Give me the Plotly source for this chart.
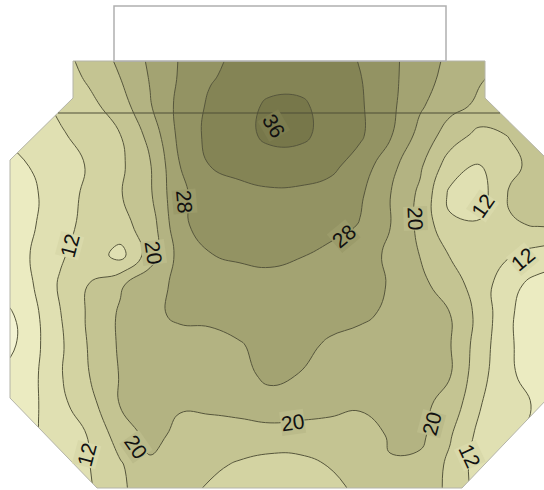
import plotly.graph_objects as go

# Sampling grid (drawing-frame units, y grows downward)
grid_x = [0, 30, 60, 90, 120, 150, 180, 210, 240, 270, 300, 330, 360, 390, 420, 450, 480, 510, 540, 570]
grid_y = [45, 75, 105, 135, 165, 195, 225, 255, 285, 315, 345, 375, 405, 435, 465, 495]

# Measured values, one list per grid row
row_045 = [9, 12, 15, 18.2, 21.5, 24.9, 28.2, 31, 32.5, 33.5, 33.7, 33, 31.6, 28.9, 26.1, 23.4, 20.8, 19, 17.5, 16]
row_075 = [8, 11, 13.9, 16.9, 20.1, 24.3, 28.4, 31.6, 33.1, 33.8, 34, 33.3, 32.1, 29, 25.7, 22.8, 20.4, 18.7, 17.1, 15.5]
row_105 = [7.5, 10.2, 12.8, 15, 18.1, 23.7, 29.2, 32.6, 34.2, 36.8, 36.8, 34.2, 32.5, 29, 24.6, 21.3, 19.3, 18.3, 17.8, 17.5]
row_135 = [8.2, 9.9, 11.5, 13.6, 15.9, 21.2, 29.2, 33.1, 34.6, 37, 37, 34.4, 32.6, 28.5, 22.7, 18.1, 14.8, 16.2, 17.5, 18]
row_165 = [6.5, 8.1, 10.2, 12.4, 15.2, 19.7, 28, 32.1, 33.5, 34, 33.8, 33, 30.4, 25.3, 20.7, 14, 11.8, 15, 17.5, 18.5]
row_195 = [5.5, 7.2, 10, 13.1, 15.7, 19.4, 27.5, 29.2, 30.5, 31.3, 31.2, 30.5, 28.6, 24.1, 19.2, 11.2, 10.3, 16.5, 18, 18.5]
row_225 = [6, 7.3, 10.8, 13.1, 14.7, 17.8, 27.3, 29.5, 29.8, 30.2, 30.2, 29.6, 27.8, 24.1, 19, 12.6, 12.4, 15.6, 16.3, 16.5]
row_255 = [5.5, 8, 11.4, 14.5, 10.5, 18, 25.5, 27.9, 28.5, 28.7, 28.2, 26.8, 25.3, 23.5, 19.9, 15.8, 14.2, 12.2, 10.3, 9.5]
row_285 = [5.5, 7.4, 12.5, 16.2, 19.5, 22.7, 24.8, 25.8, 26.6, 27, 26.8, 26.2, 25.2, 23.8, 21.1, 17.9, 14.1, 9, 6.6, 6]
row_315 = [2, 6.3, 11.8, 16.8, 20.5, 23, 24.8, 24.8, 25.2, 25.8, 25.6, 25, 24.5, 23.5, 21.8, 20.1, 14.7, 8.4, 5.5, 4.5]
row_345 = [1.5, 6.2, 11.3, 16.5, 20.5, 21.5, 22.2, 22.8, 23.8, 25, 24.8, 23.6, 23, 22.3, 21.5, 20.2, 14, 8.4, 5.5, 4.5]
row_375 = [4.5, 6.6, 11.6, 16.1, 20.2, 21.3, 21.8, 22.3, 23, 24.8, 23.9, 22.8, 22, 21.5, 21, 20.2, 13.3, 8.6, 5.8, 5]
row_405 = [5.5, 6.8, 10.9, 14.6, 20.1, 21.3, 20.3, 20.6, 21.2, 22.5, 21.8, 21, 20.4, 20.7, 21, 18.5, 12.2, 9.4, 7.4, 6.5]
row_435 = [5, 7.3, 9.7, 12.3, 18, 21, 19.2, 18.7, 18.5, 18.3, 18.3, 18.5, 18.5, 20.3, 21, 16.4, 10.8, 8.6, 7, 6]
row_465 = [5, 7, 9.5, 12, 15.5, 19.5, 18.3, 16.8, 15.5, 14.6, 14.8, 16.2, 18, 19.8, 19, 15.2, 10, 8, 6.5, 6]
row_495 = [5, 7, 9.5, 11.6, 15, 18.8, 17, 15.2, 13.8, 13.2, 13.4, 14.5, 16.6, 18.5, 17.5, 15.5, 10.5, 8, 6.5, 6]

values = [row_045, row_075, row_105, row_135, row_165, row_195, row_225, row_255,
          row_285, row_315, row_345, row_375, row_405, row_435, row_465, row_495]

# Contour levels
level_start, level_end, level_step = 4, 36, 4

# Fill colour of each band, lowest to highest
band_colors = ["#F3F3D2", "#EBEBC1", "#E0E0B2", "#D3D3A2", "#C4C492",
               "#B3B382", "#A3A372", "#939363", "#848455", "#77774A"]

# Labelled contours: text, position, angle
labels = [
    ("36", 274, 125, 60),
    ("28", 185, 201, 85),
    ("28", 343, 236, -40),
    ("20", 154, 252, 82),
    ("20", 416, 218, 88),
    ("12", 482, 206, -55),
    ("12", 522, 259, -40),
    ("12", 69, 246, -75),
    ("20", 292, 422, -8),
    ("20", 136, 446, 55),
    ("20", 431, 424, -75),
    ("12", 86, 455, -75),
    ("12", 470, 455, 65),
]


def mix(c1, c2):
    a = [int(c1[i:i + 2], 16) for i in (1, 3, 5)]
    b = [int(c2[i:i + 2], 16) for i in (1, 3, 5)]
    return "#%02X%02X%02X" % tuple((p + q) // 2 for p, q in zip(a, b))


n = len(band_colors)
colorscale = [[k / (n - 1), c] for k, c in enumerate(band_colors)]

fig = go.Figure()
fig.add_trace(go.Contour(
    x=grid_x, y=grid_y, z=values,
    colorscale=colorscale,
    showscale=False,
    hoverinfo="skip",
    contours=dict(start=level_start, end=level_end, size=level_step,
                  coloring="fill", showlabels=False),
    line=dict(color="#56563C", width=1, smoothing=1.3),
))

# Outline of the surveyed area
outline = [(73, 61), (485, 61), (485, 98), (548, 160), (548, 398), (462, 488),
           (97, 488), (10, 398), (10, 160), (73, 98)]
inner = "M " + " L ".join(f"{x},{y}" for x, y in outline) + " Z"
outer = "M -30,-30 L 580,-30 L 580,520 L -30,520 Z"

shapes = [
    dict(type="path", path=outer + " " + inner, fillcolor="white", fillrule="evenodd",
         line=dict(width=0), layer="above", xref="x", yref="y"),
    dict(type="path", path=inner, line=dict(color="#B4B4A8", width=1),
         layer="above", xref="x", yref="y"),
    dict(type="rect", x0=114, x1=446, y0=6, y1=61, fillcolor="white",
         line=dict(color="#B0B0B0", width=1.5), layer="above", xref="x", yref="y"),
    dict(type="line", x0=58, x1=500, y0=113, y1=113,
         line=dict(color="#4E4E36", width=1.2), layer="above", xref="x", yref="y"),
]

annotations = []
for text, x, y, ang in labels:
    lv = int(text)
    k = (lv - level_start) // level_step + 1
    bg = mix(band_colors[k - 1 + 0], band_colors[k])
    annotations.append(dict(
        x=x, y=y, xref="x", yref="y", text=text, showarrow=False,
        textangle=ang, bgcolor=bg, borderpad=0,
        font=dict(family="Liberation Sans, Arial, sans-serif", size=21, color="#111111"),
    ))

fig.update_layout(
    width=544, height=490,
    margin=dict(l=0, r=0, t=0, b=0),
    paper_bgcolor="white", plot_bgcolor="white",
    xaxis=dict(visible=False, range=[0, 544], fixedrange=True),
    yaxis=dict(visible=False, range=[490, 0], fixedrange=True),
    shapes=shapes,
    annotations=annotations,
    showlegend=False,
)

fig.write_html("out.html")
